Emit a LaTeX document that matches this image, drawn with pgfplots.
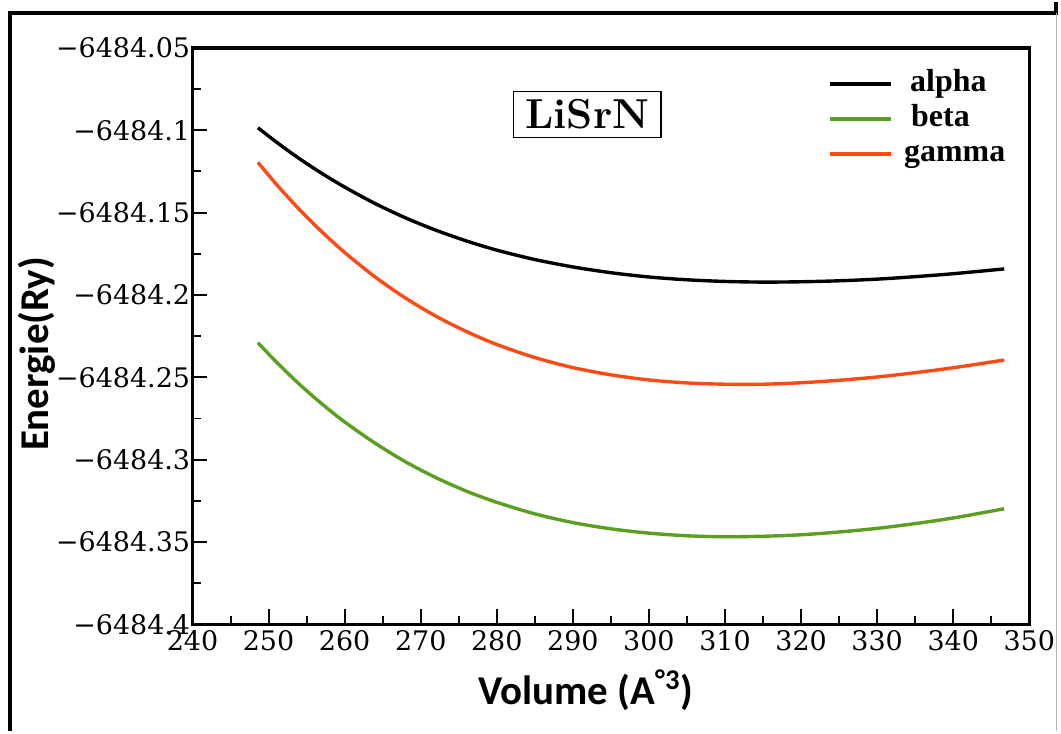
\documentclass[border=0pt]{standalone}
\usepackage{pgfplots}
\pgfplotsset{compat=1.18}
\usepackage{fontspec}
\newfontfamily\dvs{DejaVu Serif}
\newfontfamily\carl{Carlito}
\newfontfamily\libser{Liberation Serif}
\definecolor{betagreen}{HTML}{5A9F1F}
\definecolor{gammared}{HTML}{FF4A16}

\begin{document}
\begin{tikzpicture}
\begin{axis}[
    name=ax,
    scale only axis,
    width=419.5pt, height=289pt,
    xmin=240, xmax=350,
    ymin=-6484.4, ymax=-6484.05,
    xtick={240,250,260,270,280,290,300,310,320,330,340,350},
    ytick={-6484.4,-6484.35,-6484.3,-6484.25,-6484.2,-6484.15,-6484.1,-6484.05},
    yticklabels={−6484.4,−6484.35,−6484.3,−6484.25,−6484.2,−6484.15,−6484.1,−6484.05},
    minor x tick num=1, minor y tick num=1,
    tick pos=left, tick align=inside,
    major tick length=7.5pt, minor tick length=4.3pt,
    every tick/.style={black, line width=1pt},
    axis line style={line width=1.8pt},
    /pgf/number format/assume math mode=true,
    ticklabel style={font=\dvs\fontsize{13.5}{16}\selectfont},
    yticklabel style={inner sep=1pt},
    xticklabel style={inner sep=3pt},
    xlabel={\carl\bfseries Volume (A\textsuperscript{°3})},
    ylabel={\carl\bfseries Energie(Ry)},
    label style={font=\fontsize{20.5}{24}\selectfont},
    xlabel style={at={(axis description cs:0.47,-0.114)}, anchor=center},
    ylabel style={at={(axis description cs:-0.186,0.469)}, anchor=center, rotate=0},
    legend style={at={(0.759,0.968)}, anchor=north west, draw=none, fill=none,
        inner sep=0pt, font=\libser\bfseries\fontsize{16}{18}\selectfont, row sep=0pt,
        nodes={text depth=3pt, text height=10.5pt, inner sep=2pt}},
    legend cell align=left,
    legend image code/.code={\draw[#1, line width=1.7pt] (0pt,0pt) -- (30.5pt,0pt);},
    every axis plot/.append style={line width=1.7pt, smooth, no markers},
]
% alpha
\addplot[black] coordinates {
    (248.6,-6484.0985) (251,-6484.1071) (254,-6484.1171) (257,-6484.1262)
    (260,-6484.1345) (264,-6484.1445) (268,-6484.1532) (272,-6484.1607)
    (276,-6484.1672) (280,-6484.1728) (285,-6484.1785) (290,-6484.1830)
    (295,-6484.1865) (300,-6484.1891) (305,-6484.1908) (310,-6484.1918)
    (315,-6484.1922) (320,-6484.1920) (325,-6484.1914) (330,-6484.1904)
    (335,-6484.1889) (340,-6484.1871) (346.7,-6484.1842)
};
\addlegendentry{\hspace{7pt}alpha}
% beta
\addplot[betagreen] coordinates {
    (248.6,-6484.2290) (251,-6484.2406) (254,-6484.2540) (257,-6484.2661)
    (260,-6484.2771) (264,-6484.2900) (268,-6484.3013) (272,-6484.3109)
    (276,-6484.3191) (280,-6484.3259) (285,-6484.3329) (290,-6484.3382)
    (295,-6484.3420) (300,-6484.3446) (305,-6484.3462) (310,-6484.3468)
    (315,-6484.3465) (320,-6484.3456) (325,-6484.3439) (330,-6484.3417)
    (335,-6484.3388) (340,-6484.3354) (346.7,-6484.3298)
};
\addlegendentry{\hspace{7.5pt}beta}
% gamma
\addplot[gammared] coordinates {
    (248.6,-6484.1195) (251,-6484.1327) (254,-6484.1479) (257,-6484.1617)
    (260,-6484.1742) (264,-6484.1891) (268,-6484.2019) (272,-6484.2129)
    (276,-6484.2222) (280,-6484.2301) (285,-6484.2380) (290,-6484.2441)
    (295,-6484.2485) (300,-6484.2516) (305,-6484.2534) (310,-6484.2542)
    (315,-6484.2542) (320,-6484.2533) (325,-6484.2518) (330,-6484.2498)
    (335,-6484.2472) (340,-6484.2442) (346.7,-6484.2395)
};
\addlegendentry{\hspace{4pt}gamma}
\node[draw=black, line width=0.7pt, inner xsep=6pt, inner ysep=4pt,
      font=\bfseries\fontsize{21}{24}\selectfont]
    at (axis cs:291.9,-6484.0905) {LiSrN};
\end{axis}
% page size and outer frame
\path (ax.south west) ++(-96.5pt,-53.5pt) coordinate (bbsw);
\path (ax.north east) ++(14.5pt,23pt) coordinate (bbne);
\path (bbsw) rectangle (bbne);
\draw[line width=2pt] (ax.south west) ++(-91.5pt,-53.5pt) -- ++(0,360pt) -| ([xshift=13.5pt]ax.east |- bbne);
\draw[line width=2pt] ([xshift=-91.5pt,yshift=17.5pt]ax.north west) -- ([xshift=13.5pt,yshift=17.5pt]ax.north east);
\draw[gray!60, line width=0.6pt] ([xshift=13.5pt,yshift=17.5pt]ax.north east) -- ([xshift=13.5pt]ax.east |- bbsw);
\end{tikzpicture}
\end{document}
